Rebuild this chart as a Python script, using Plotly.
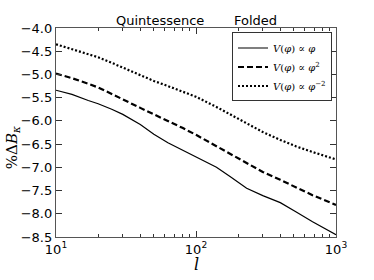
import plotly.graph_objects as go

# multipole l
ell = [10, 13, 17, 20, 25, 30, 40, 50, 63, 80, 100, 140, 175, 230, 300, 400, 520, 680, 1000]

# %Delta B_kappa, folded configuration
v_phi = [-5.34, -5.43, -5.56, -5.63, -5.75, -5.86, -6.08, -6.29, -6.47, -6.63, -6.77,
         -7.00, -7.20, -7.45, -7.61, -7.76, -7.96, -8.17, -8.45]
v_phi2 = [-4.98, -5.08, -5.20, -5.28, -5.42, -5.53, -5.72, -5.86, -6.00, -6.15, -6.30,
          -6.55, -6.70, -6.92, -7.10, -7.27, -7.44, -7.60, -7.81]
v_phim2 = [-4.35, -4.45, -4.56, -4.63, -4.75, -4.85, -5.02, -5.14, -5.25, -5.37, -5.48,
           -5.70, -5.86, -6.06, -6.24, -6.41, -6.55, -6.67, -6.83]

names = ["<i>V</i>(<i>φ</i>) ∝ <i>φ</i>",
         "<i>V</i>(<i>φ</i>) ∝ <i>φ</i><sup>2</sup>",
         "<i>V</i>(<i>φ</i>) ∝ <i>φ</i><sup>−2</sup>"]

xtick_vals = [10, 100, 1000]
xtick_text = ["10<sup>1</sup>", "10<sup>2</sup>", "10<sup>3</sup>"]
ytick_vals = [-8.5, -8.0, -7.5, -7.0, -6.5, -6.0, -5.5, -5.0, -4.5, -4.0]

fig = go.Figure()
fig.add_trace(go.Scatter(x=ell, y=v_phi, mode="lines", name=names[0],
                         line=dict(color="black", width=1.2)))
fig.add_trace(go.Scatter(x=ell, y=v_phi2, mode="lines", name=names[1],
                         line=dict(color="black", width=2.2, dash="6px,3px")))
fig.add_trace(go.Scatter(x=ell, y=v_phim2, mode="lines", name=names[2],
                         line=dict(color="black", width=2.2, dash="2px,2px")))

W, H = 374, 280
L, R, T, B = 56, 336, 27.5, 237

def px(x):
    return (x - L) / (R - L)

def py(y):
    return (B - y) / (B - T)

axis_common = dict(showline=True, linecolor="#555", linewidth=1.3, mirror="allticks",
                   ticks="inside", tickcolor="#333", showgrid=False, zeroline=False,
                   automargin=False,
                   tickfont=dict(family="DejaVu Sans", size=13, color="black"))

def ann(text, x, y, size, family="DejaVu Sans", angle=0):
    return dict(text=text, x=px(x), y=py(y), xref="paper", yref="paper",
                xanchor="center", yanchor="middle", showarrow=False, textangle=angle,
                font=dict(family=family, size=size, color="black"))

fig.update_layout(
    width=W, height=H,
    margin=dict(l=L, r=W - R, t=T, b=H - B),
    paper_bgcolor="white", plot_bgcolor="white",
    showlegend=True,
    legend=dict(x=px(332), y=py(32), xanchor="right", yanchor="top",
                bordercolor="#333", borderwidth=1, bgcolor="white",
                font=dict(family="DejaVu Serif", size=10, color="black"),
                tracegroupgap=0, itemwidth=30),
    xaxis=dict(type="log", range=[1, 3], tickvals=xtick_vals, ticktext=xtick_text,
               ticklen=6, minor=dict(ticks="inside", ticklen=3, tickcolor="#333",
                                     tickvals=[20, 30, 40, 50, 60, 70, 80, 90,
                                               200, 300, 400, 500, 600, 700, 800, 900]),
               **axis_common),
    yaxis=dict(range=[-8.5, -4.0], tickvals=ytick_vals, tickformat=".1f", ticklen=6,
               **axis_common),
    annotations=[
        ann("Quintessence", 160, 20, 13),
        ann("Folded", 255, 20, 13),
        ann("<i>l</i>", 196, 265, 16, "DejaVu Serif"),
        ann("%Δ<i>B</i><sub><i>κ</i></sub>", 12, 148, 15, "DejaVu Serif", -90),
    ],
)

fig.write_html("out.html", config={"displayModeBar": False},
               post_script="document.body.style.margin='0px';")
